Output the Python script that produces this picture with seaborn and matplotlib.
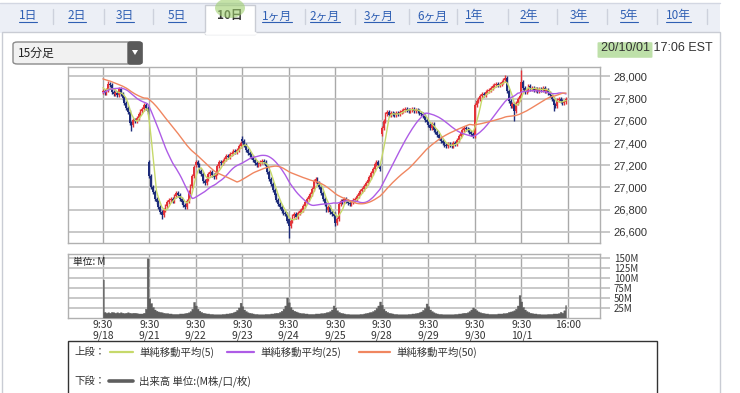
import numpy as np
import pandas as pd
import seaborn as sns
import matplotlib.pyplot as plt
from matplotlib.patches import Rectangle, FancyBboxPatch, Polygon, Ellipse
from matplotlib.lines import Line2D
import matplotlib.ticker as mtick

# ======================================================
# 1. DATA  (15-minute bars, 26 per session)
# ======================================================

days = ["9/18", "9/21", "9/22", "9/23", "9/24", "9/25", "9/28", "9/29", "9/30", "10/1"]

# two sessions before the window, only used to seed the moving averages
close_0916 = [28060, 28080, 28100, 28120, 28140, 28150, 28160, 28170, 28180, 28190, 28180, 28170, 28160,
              28150, 28160, 28170, 28180, 28170, 28150, 28120, 28090, 28070, 28060, 28050, 28040, 28030]
close_0917 = [27780, 27740, 27700, 27680, 27700, 27730, 27760, 27790, 27800, 27820, 27840, 27850, 27860,
              27880, 27900, 27910, 27920, 27930, 27940, 27950, 27940, 27930, 27920, 27910, 27900, 27890]

close_0918 = [27870, 27850, 27880, 27930, 27920, 27860, 27840, 27855, 27830, 27890, 27840, 27810, 27760,
              27720, 27680, 27580, 27560, 27610, 27600, 27630, 27660, 27690, 27710, 27740, 27720, 27680]
close_0921 = [27100, 27000, 26960, 26900, 26870, 26820, 26780, 26750, 26800, 26830, 26870, 26890, 26900,
              26880, 26920, 26950, 26930, 26900, 26870, 26840, 26820, 26880, 26960, 27010, 27100, 27180]
close_0922 = [27230, 27200, 27150, 27120, 27060, 27040, 27080, 27120, 27140, 27110, 27090, 27130, 27190,
              27230, 27220, 27240, 27260, 27280, 27270, 27300, 27310, 27330, 27320, 27340, 27370, 27400]
close_0923 = [27420, 27380, 27340, 27310, 27290, 27270, 27250, 27220, 27200, 27210, 27230, 27240, 27230,
              27190, 27140, 27080, 27030, 26980, 26930, 26890, 26850, 26820, 26790, 26770, 26760, 26700]
close_0924 = [26650, 26700, 26740, 26760, 26730, 26770, 26790, 26800, 26830, 26870, 26900, 26920, 26940,
              26990, 27060, 27080, 27040, 27000, 26950, 26900, 26850, 26800, 26820, 26780, 26760, 26740]
close_0925 = [26680, 26720, 26850, 26880, 26870, 26900, 26880, 26860, 26850, 26870, 26890, 26900, 26920,
              26950, 26970, 26990, 27010, 27040, 27070, 27090, 27130, 27170, 27210, 27230, 27200, 27170]
close_0928 = [27540, 27600, 27660, 27680, 27650, 27670, 27660, 27650, 27670, 27660, 27680, 27690, 27700,
              27710, 27700, 27690, 27700, 27710, 27690, 27700, 27690, 27670, 27660, 27640, 27610, 27590]
close_0929 = [27560, 27540, 27570, 27520, 27500, 27470, 27450, 27420, 27400, 27380, 27370, 27390, 27380,
              27370, 27400, 27390, 27430, 27460, 27490, 27520, 27540, 27530, 27520, 27500, 27480, 27460]
close_0930 = [27740, 27780, 27800, 27820, 27840, 27830, 27860, 27870, 27880, 27900, 27910, 27920, 27930,
              27920, 27930, 27950, 27970, 27990, 27870, 27780, 27730, 27750, 27690, 27760, 27800, 27820]
close_1001 = [27950, 27900, 27860, 27880, 27910, 27890, 27900, 27880, 27890, 27870, 27890, 27880, 27900,
              27870, 27880, 27850, 27830, 27800, 27740, 27730, 27790, 27800, 27780, 27760, 27770, 27800]

# opening price of the first bar of each session (gaps)
day_open = [27860, 27230, 27200, 27440, 26720, 26760, 27480, 27580, 27460, 27850]

# notable wicks: (session, bar, price)
spike_high = [("9/18", 3, 27955), ("9/23", 0, 27460), ("9/30", 17, 28010), ("10/1", 0, 28060)]
spike_low = [("9/18", 16, 27505), ("9/21", 7, 26720), ("9/24", 0, 26545), ("9/25", 0, 26650),
             ("9/30", 22, 27595), ("10/1", 18, 27690)]

# volume in millions
vol_0918 = [95, 14, 12, 13, 12, 14, 13, 12, 13, 12, 13, 12, 11, 12, 13, 12, 11, 12, 12, 11, 10, 10, 10, 12, 22, 148]
vol_0921 = [48, 36, 26, 20, 17, 15, 14, 13, 12, 11, 11, 10, 10, 9, 9, 9, 9, 10, 10, 10, 11, 12, 13, 16, 22, 39]
vol_0922 = [30, 22, 17, 14, 12, 11, 10, 10, 9, 9, 8, 8, 8, 8, 8, 9, 9, 10, 10, 11, 12, 13, 15, 19, 25, 37]
vol_0923 = [28, 20, 16, 13, 12, 11, 10, 9, 9, 8, 8, 8, 8, 9, 9, 9, 10, 10, 11, 12, 12, 14, 17, 22, 30, 50]
vol_0924 = [38, 26, 20, 17, 15, 13, 12, 11, 11, 10, 10, 9, 9, 9, 9, 10, 10, 10, 11, 11, 12, 13, 14, 16, 20, 30]
vol_0925 = [25, 18, 14, 12, 11, 10, 9, 9, 8, 8, 8, 8, 8, 8, 9, 9, 10, 11, 12, 13, 14, 16, 19, 24, 30, 40]
vol_0928 = [32, 22, 17, 14, 12, 11, 10, 9, 9, 8, 8, 8, 8, 8, 8, 9, 9, 10, 10, 11, 12, 13, 15, 19, 24, 35]
vol_0929 = [28, 20, 16, 13, 11, 10, 9, 9, 8, 8, 8, 8, 8, 8, 8, 9, 9, 10, 10, 11, 12, 12, 13, 16, 20, 25]
vol_0930 = [22, 18, 15, 13, 12, 11, 10, 10, 9, 9, 9, 9, 9, 10, 10, 10, 11, 11, 12, 14, 15, 16, 18, 22, 30, 56]
vol_1001 = [40, 26, 20, 16, 14, 12, 11, 10, 10, 9, 9, 8, 8, 8, 8, 9, 9, 9, 10, 10, 10, 11, 14, 12, 18, 31]

price_ticks = [26600, 26800, 27000, 27200, 27400, 27600, 27800, 28000]
vol_ticks = [25, 50, 75, 100, 125, 150]
tabs = ["1日", "2日", "3日", "5日", "10日", "1ヶ月", "2ヶ月", "3ヶ月", "6ヶ月", "1年", "2年", "3年", "5年", "10年"]

# ======================================================
# 2. BUILD OHLC + MOVING AVERAGES
# ======================================================

BARS = 26
closes = [close_0918, close_0921, close_0922, close_0923, close_0924,
          close_0925, close_0928, close_0929, close_0930, close_1001]
vols = [vol_0918, vol_0921, vol_0922, vol_0923, vol_0924,
        vol_0925, vol_0928, vol_0929, vol_0930, vol_1001]

c = np.array(sum(closes, []), dtype=float)
n = len(c)
idx = np.arange(n)
v = np.array(sum(vols, []), dtype=float)

o = np.r_[close_0917[-1], c[:-1]]
for d, op in enumerate(day_open):
    o[d * BARS] = op
wick = 18
hi = np.maximum(o, c) + wick
lo = np.minimum(o, c) - wick
for day, b, p in spike_high:
    hi[days.index(day) * BARS + b] = p
for day, b, p in spike_low:
    lo[days.index(day) * BARS + b] = p

full = pd.Series(close_0916 + close_0917 + list(c))
ma = pd.DataFrame({
    "idx": idx,
    "MA5": full.rolling(5).mean().values[-n:],
    "MA25": full.rolling(25).mean().values[-n:],
    "MA50": full.rolling(50, min_periods=40).mean().values[-n:],
})
ma_long = ma.melt(id_vars="idx", var_name="series", value_name="price")
ma_colors = {"MA5": "#c6d96a", "MA25": "#ae5ce6", "MA50": "#f08660"}

# ======================================================
# 3. FIGURE
# ======================================================

sns.set_style("white")
JP = ["Noto Sans CJK JP", "DejaVu Sans"]
LAT = ["Liberation Sans", "DejaVu Sans"]
plt.rcParams["font.family"] = JP

W, H = 740, 393
fig = plt.figure(figsize=(W / 100, H / 100), dpi=100)

def fx(x):
    return x / W

def fy(y):
    return 1 - y / H

def rect(x0, y0, x1, y1, **kw):
    r = Rectangle((fx(x0), fy(y1)), fx(x1) - fx(x0), fy(y0) - fy(y1),
                  transform=fig.transFigure, **kw)
    fig.add_artist(r)
    return r

def seg(x0, y0, x1, y1, **kw):
    fig.add_artist(Line2D([fx(x0), fx(x1)], [fy(y0), fy(y1)], transform=fig.transFigure, **kw))

# --- page chrome: tab bar, panel
rect(0, 3, 720, 33, facecolor="#eceff6", edgecolor="none", zorder=-5)
seg(0, 3, 720, 3, color="#d3d7e2", lw=1, zorder=-4)
rect(2, 32, 720, 400, facecolor="white", edgecolor="#c9ccd4", lw=1, zorder=-4)
rect(205, 5, 255, 33.5, facecolor="white", edgecolor="#c9ccd4", lw=1, zorder=-3)
seg(205.5, 32.5, 254.5, 32.5, color="white", lw=2, zorder=-2)

tab_x = [28, 77, 125, 177, 230, 277, 325, 379, 432, 474, 529, 579, 629, 678]
for sx in [53, 104, 153, 305, 355, 409, 457, 508, 557, 607, 657, 707]:
    seg(sx, 9, sx, 24, color="#cdd1dc", lw=1)

# highlighter marks
fig.add_artist(Ellipse((fx(230), fy(8)), fx(30), 20 / H, transform=fig.transFigure,
                       facecolor="#9fcf6f", alpha=0.6, edgecolor="none", zorder=5))
fig.add_artist(FancyBboxPatch((fx(599), fy(57)), fx(52), 14 / H, transform=fig.transFigure,
                              boxstyle="round,pad=0.002", facecolor="#a9d68c", alpha=0.75,
                              edgecolor="none", zorder=-1))

tab_texts = []
for t, x in zip(tabs, tab_x):
    sel = t == "10日"
    tt = fig.text(fx(x), fy(16), t, ha="center", va="center", fontsize=8.5,
                  color="#333333" if sel else "#2f5fb3", fontweight="bold" if sel else "normal",
                  family=JP)
    if not sel:
        tab_texts.append(tt)

# dropdown
fig.add_artist(FancyBboxPatch((fx(13), fy(64)), fx(129), 22 / H, transform=fig.transFigure,
                              boxstyle="round,pad=0,rounding_size=0.006", facecolor="#f1f1f1",
                              edgecolor="#8a8a8a", lw=1, zorder=1))
fig.add_artist(FancyBboxPatch((fx(128), fy(64)), fx(14), 22 / H, transform=fig.transFigure,
                              boxstyle="round,pad=0,rounding_size=0.004", facecolor="#5a5a5a",
                              edgecolor="#5a5a5a", lw=1, zorder=2))
fig.add_artist(Polygon([[fx(132), fy(50)], [fx(138), fy(50)], [fx(135), fy(55)]],
                       closed=True, transform=fig.transFigure, facecolor="white", edgecolor="none", zorder=3))
fig.text(fx(18), fy(53), "15分足", ha="left", va="center", fontsize=8.5, color="#222222", family=JP)

fig.text(fx(713), fy(48), "20/10/01 17:06 EST", ha="right", va="center", fontsize=9,
         color="#333333", family=LAT)

# --- price panel
X0, X1 = -19.5, 278
ax_p = fig.add_axes([fx(68), fy(243), fx(600) - fx(68), fy(67) - fy(243)])
ax_v = fig.add_axes([fx(68), fy(317.5), fx(600) - fx(68), fy(254) - fy(317.5)])

RED, NAVY = "#e2343a", "#1e2c7a"
col = np.where(c >= o, RED, NAVY)
ax_p.vlines(idx, lo, hi, colors=col, lw=1.0, zorder=3)
ax_p.bar(idx, np.maximum(np.abs(c - o), 8), bottom=np.minimum(o, c), width=1.0,
         color=col, linewidth=0, zorder=3)
sns.lineplot(data=ma_long, x="idx", y="price", hue="series", palette=ma_colors,
             linewidth=1.0, legend=False, errorbar=None, ax=ax_p, zorder=4)

day_ticks = [d * BARS for d in range(len(days))] + [n]
for ax in (ax_p, ax_v):
    ax.set_axisbelow(True)
    ax.grid(axis="x", color="#a9a9a9", lw=1.0)
    ax.grid(axis="y", color="#c4c4c4", lw=1.3)
    ax.yaxis.tick_right()
    for s in ax.spines.values():
        s.set_color("#b0b0b0")
        s.set_linewidth(1.0)

ax_p.set_xlim(X0, X1)
ax_p.set_xticks(day_ticks)
ax_p.set_xlabel("")
ax_p.set_ylabel("")
ax_p.set_ylim(26500, 28085)
ax_p.set_yticks(price_ticks)
ax_p.yaxis.set_major_formatter(mtick.StrMethodFormatter("{x:,.0f}"))
ax_p.tick_params(axis="y", length=7, width=1.3, color="#c4c4c4", pad=3, labelsize=8, labelcolor="#333333")
ax_p.tick_params(axis="x", length=0, labelbottom=False)
for lab in ax_p.get_yticklabels():
    lab.set_family(LAT)

# --- volume panel (solid stepped profile, one step per bar)
VOL = "#5e5e5e"
ax_v.fill_between(idx, 0, v, step="mid", facecolor=VOL, edgecolor=VOL, lw=0.3, zorder=3)
ax_v.set_xlim(X0, X1)
ax_v.set_ylim(0, 159)
ax_v.set_yticks(vol_ticks)
ax_v.set_yticklabels([f"{t}M" for t in vol_ticks])
ax_v.set_xticks(day_ticks)
ax_v.set_xticklabels([f"9:30\n{d}" for d in days] + ["16:00"], linespacing=1.05)
ax_v.tick_params(axis="y", length=7, width=1.3, color="#c4c4c4", pad=3, labelsize=7, labelcolor="#333333")
ax_v.tick_params(axis="x", length=0, pad=2, labelsize=7.5, labelcolor="#333333")
for lab in ax_v.get_xticklabels():
    lab.set_verticalalignment("top")
ax_v.text(0.009, 0.87, "単位: M", transform=ax_v.transAxes, fontsize=7, va="center", ha="left", color="#222222")

# --- legend box
rect(68, 341, 657, 400, facecolor="none", edgecolor="#333333", lw=1, zorder=1)
txt = dict(fontsize=7.5, color="#333333", va="center", ha="left", family=JP)
fig.text(fx(74), fy(352), "上段：", **txt)
fig.text(fx(74), fy(381), "下段：", **txt)
legend_items = [(110, 133, "MA5", "単純移動平均(5)"), (227, 254, "MA25", "単純移動平均(25)"),
                (359, 390, "MA50", "単純移動平均(50)")]
for a, b, key, label in legend_items:
    seg(a, 352, b, 352, color=ma_colors[key], lw=1.6)
    fig.text(fx(b + 6), fy(352), label, **txt)
seg(109, 381, 133, 381, color=VOL, lw=2.6)
fig.text(fx(139), fy(381), "出来高 単位:(M株/口/枚)", **txt)

# underline the link tabs
fig.canvas.draw()
inv = fig.transFigure.inverted()
for tt in tab_texts:
    bb = tt.get_window_extent()
    (ux0, uy), (ux1, _) = inv.transform([[bb.x0, bb.y0 + 1], [bb.x1, bb.y0 + 1]])
    fig.add_artist(Line2D([ux0, ux1], [uy, uy], transform=fig.transFigure, color="#2f5fb3", lw=0.8))

fig.savefig("out.png", dpi=100)
